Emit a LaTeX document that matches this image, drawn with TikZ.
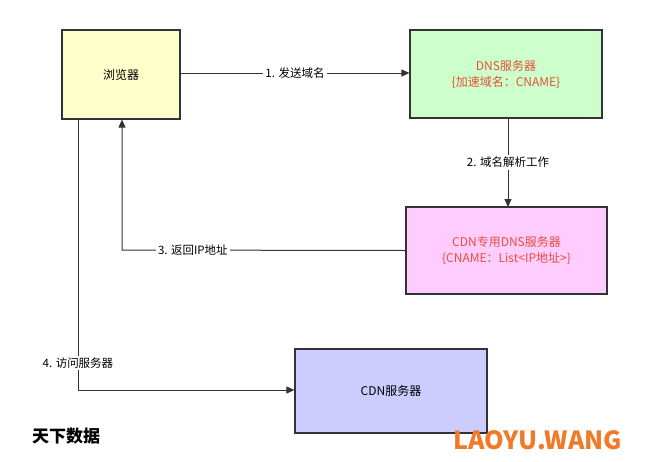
\documentclass[tikz,border=0pt]{standalone}
\usepackage{fontspec}
\setmainfont{Noto Sans CJK SC}
\usetikzlibrary{arrows.meta}
\definecolor{yel}{HTML}{FFFFCC}
\definecolor{grn}{HTML}{CCFFCC}
\definecolor{pnk}{HTML}{FFCCFF}
\definecolor{lav}{HTML}{CCCCFF}
\definecolor{red1}{HTML}{E8503A}
\definecolor{org}{HTML}{F07A28}
\tikzset{box/.style={draw=black!80,line width=1.2pt,inner sep=0pt},
 arr/.style={-{Triangle[length=8pt,width=7pt]},line width=1pt,draw=black!80},
 lbl/.style={fill=white,font=\fontsize{11.5}{14}\selectfont,inner sep=2pt}}
\begin{document}
\begin{tikzpicture}[x=1pt,y=-1pt]
\useasboundingbox (0,0) rectangle (664,461);
\fill[white] (0,0) rectangle (664,461);
\node[box,fill=yel,minimum width=118pt,minimum height=89pt,font=\fontsize{12}{14}\selectfont] (b) at (121,74.5) {浏览器};
\node[box,fill=grn,minimum width=192pt,minimum height=88pt,text=red1,align=center,font=\fontsize{12}{16}\selectfont] (d) at (506,74) {DNS服务器\\\{加速域名：CNAME\}};
\node[box,fill=pnk,minimum width=201pt,minimum height=87pt,text=red1,align=center,font=\fontsize{12}{16}\selectfont] (c) at (506.5,250.5) {CDN专用DNS服务器\\\{CNAME：List<IP地址>\}};
\node[box,fill=lav,minimum width=192pt,minimum height=84pt,font=\fontsize{12}{14}\selectfont] (s) at (391,391) {CDN服务器};
\draw[arr] (b.east|-0,73) -- node[lbl]{1. 发送域名} (d.west|-0,73);
\draw[arr] (508,118) -- node[lbl]{2. 域名解析工作} (508,207);
\coordinate (k3) at (122,250);
\draw[arr] (c.west) -- node[lbl,pos=0.75]{3. 返回IP地址} (k3) -- (b.south-|k3);
\coordinate (k4) at (78,390);
\draw[arr] (b.south-|k4) -- node[lbl,pos=0.9]{4. 访问服务器} (k4) -- (s.west|-k4);
\node[font=\fontsize{17}{20}\selectfont\bfseries] (w1) at (66,436) {天下数据};
\node[font=\fontsize{25}{28}\selectfont\bfseries,text=org] (w2) at (538,440) {LAOYU.WANG};
\end{tikzpicture}
\end{document}
